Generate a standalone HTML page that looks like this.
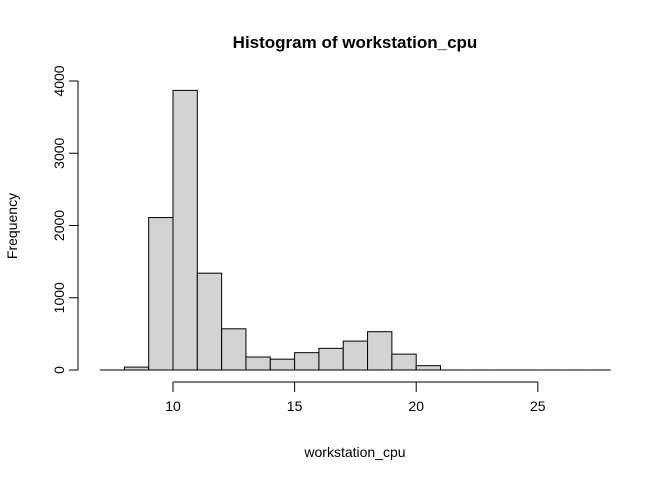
<!DOCTYPE html>
<html><head><meta charset="utf-8"><style>
body{margin:0;background:#fff;}
svg text{font-family:"Liberation Sans",Arial,sans-serif;fill:#000;}
</style></head><body>
<svg width="672" height="480" xmlns="http://www.w3.org/2000/svg">
<text x="355" y="48" text-anchor="middle" font-weight="bold" font-size="17">Histogram of workstation_cpu</text>
<text x="355" y="457" text-anchor="middle" font-size="14">workstation_cpu</text>
<text transform="translate(17,226) rotate(-90)" text-anchor="middle" font-size="14">Frequency</text>
<g id="bars"></g>
<g id="axes"></g>
</svg>
<script>
const binStarts=[7,8,9,10,11,12,13,14,15,16,17,18,19,20,21,22,23,24,25,26,27];
const counts=[0,40,2110,3870,1340,570,180,150,240,300,400,530,220,60,0,0,0,0,0,0,0];
const xTicks=[10,15,20,25];
const yTicks=[0,1000,2000,3000,4000];
const NS='http://www.w3.org/2000/svg';
const xs=v=>173+(v-10)*24.32;
const ys=v=>370-v*0.07225;
const bars=document.getElementById('bars'),axes=document.getElementById('axes');
function mk(tag,attrs,parent){const e=document.createElementNS(NS,tag);for(const k in attrs)e.setAttribute(k,attrs[k]);parent.appendChild(e);return e;}
binStarts.forEach((b,i)=>{
 const x0=xs(b),x1=xs(b+1),y=ys(counts[i]);
 let r;
 if(counts[i]===0){
  r=mk('line',{x1:x0,x2:x1,y1:370,y2:370,stroke:'#000','stroke-width':1},bars);
 } else {
  r=mk('rect',{x:x0,y:y,width:x1-x0,height:370-y,fill:'#d3d3d3',stroke:'#000','stroke-width':1},bars);
 }
 
 
});
const xl=mk('line',{x1:xs(xTicks[0]),x2:xs(xTicks[xTicks.length-1]),y1:382,y2:382,stroke:'#000'},axes);


xTicks.forEach(t=>{
 mk('line',{x1:xs(t),x2:xs(t),y1:382,y2:392,stroke:'#000'},axes);
 const tx=mk('text',{x:xs(t),y:411,'text-anchor':'middle','font-size':14},axes);
 tx.textContent=t;
 
 
});
const yl=mk('line',{x1:78,x2:78,y1:ys(yTicks[0]),y2:ys(yTicks[yTicks.length-1]),stroke:'#000'},axes);


yTicks.forEach(t=>{
 mk('line',{x1:69,x2:78,y1:ys(t),y2:ys(t),stroke:'#000'},axes);
 const tx=mk('text',{transform:'translate(64,'+ys(t)+') rotate(-90)','text-anchor':'middle','font-size':14},axes);
 tx.textContent=t;
 
 
});
</script>
</body></html>
